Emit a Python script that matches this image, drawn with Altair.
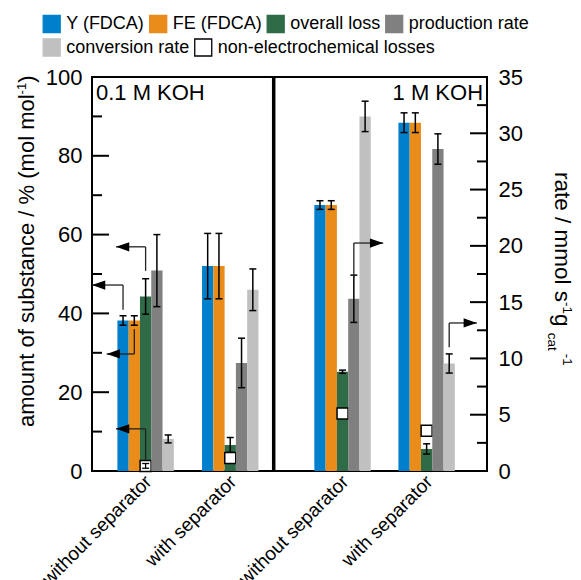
import altair as alt
import pandas as pd

FONT = "Liberation Sans"

# ---------------- data ----------------
group_labels = ["without separator", "with separator", "without separator", "with separator"]
group_pos = [4.75, 12.25, 22.2, 29.65]      # x position of each group (in bar-width units)
x_domain = [0, 35]
divider_pos = [16.1]
panel_labels = ["0.1 M KOH", "1 M KOH"]
panel_label_pos = [0.35, 34.65]

series = ["Y (FDCA)", "FE (FDCA)", "overall loss", "production rate",
          "conversion rate", "non-electrochemical losses"]
colors = ["#0080CC", "#EA8C1A", "#2E6B46", "#808080", "#C0C0C0", "#FFFFFF"]
series_slot = [-2, -1, 0, 1, 2, 0]
legend_rows = [0, 0, 0, 0, 1, 1]

# left axis: amount of substance / %
y_fdca = [38.2, 52.0, 67.5, 88.4]
y_fdca_err = [1.2, 8.3, 1.1, 2.5]
fe_fdca = [38.2, 52.0, 67.5, 88.4]
fe_fdca_err = [1.2, 8.3, 1.1, 2.5]
overall_loss = [44.3, 6.6, 25.2, 5.6]
overall_loss_err = [4.5, 1.9, 0.4, 1.3]
nonelectro = [1.3, 3.3, 14.6, 10.2]
nonelectro_err = [0.6, 0.0, 0.0, 0.0]

# right axis: rate / mmol s-1 gcat-1
production = [17.8, 9.6, 15.3, 28.6]
production_err = [3.2, 2.2, 2.1, 1.35]
conversion = [2.85, 16.1, 31.5, 9.55]
conversion_err = [0.35, 1.85, 1.35, 0.85]

left_ticks_major = [0, 20, 40, 60, 80, 100]
left_ticks_minor = [10, 30, 50, 70, 90]
right_ticks_major = [0, 5, 10, 15, 20, 25, 30, 35]
right_ticks_minor = [2.5, 7.5, 12.5, 17.5, 22.5, 27.5, 32.5]

# arrows pointing from a bar to its axis
arrow_series = ["Y (FDCA)", "FE (FDCA)", "overall loss", "non-electrochemical losses",
                "production rate", "conversion rate"]
arrow_group = [0, 0, 0, 0, 2, 3]
arrow_from = [40.9, 36.0, 50.8, 2.8, 17.2, 11.0]
arrow_corner = [47.2, 29.7, 56.9, 10.7, 20.25, 13.15]
arrow_tip = [0.0, 1.3, 2.13, 2.13, 25.8, 34.1]

# ---------------- layout constants ----------------
W, H = 395, 394
CAP = 0.31
FS = 22
SFS = 13

AW = {'a': 556, 'm': 833, 'o': 556, 'u': 556, 'n': 556, 't': 278, ' ': 278, 'f': 278, 's': 500,
      'b': 556, 'c': 500, 'e': 556, '/': 278, '%': 889, '(': 333, ')': 333, 'l': 222, 'r': 333,
      'g': 556, '-': 333, '1': 556, 'Y': 667, 'F': 611, 'D': 722, 'C': 722, 'A': 667, 'E': 667,
      'v': 500, 'p': 556, 'd': 556, 'i': 222, 'h': 556}

def tw(s, fs):
    return sum(AW.get(ch, 556) for ch in s) * fs / 1000.0

def slot_of(s):
    return series_slot[series.index(s)]

def bar_df(d):
    rows = []
    for s, (vals, errs) in d.items():
        for i in range(len(group_pos)):
            c = group_pos[i] + slot_of(s)
            rows.append(dict(series=s, xc=c, x0=c - 0.5, x1=c + 0.5, value=vals[i],
                             lo=vals[i] - errs[i], hi=vals[i] + errs[i], err=errs[i]))
    return pd.DataFrame(rows)

def cap_df(df):
    rows = []
    for _, r in df[df["err"] > 0].iterrows():
        for v in (r["lo"], r["hi"]):
            rows.append(dict(xa=r["xc"] - CAP, xb=r["xc"] + CAP, yv=v))
    return pd.DataFrame(rows)

df_left = bar_df({"Y (FDCA)": (y_fdca, y_fdca_err), "FE (FDCA)": (fe_fdca, fe_fdca_err),
                  "overall loss": (overall_loss, overall_loss_err)})
df_right = bar_df({"production rate": (production, production_err),
                   "conversion rate": (conversion, conversion_err)})
df_sq = bar_df({"non-electrochemical losses": (nonelectro, nonelectro_err)})
df_sq_err = df_sq[df_sq["err"] > 0]

arr_rows = []
for s, g, a, b, t in zip(arrow_series, arrow_group, arrow_from, arrow_corner, arrow_tip):
    arr_rows.append(dict(series=s, xstart=group_pos[g] + slot_of(s), y0=a, y1=b, xtip=t))
df_arr = pd.DataFrame(arr_rows)
df_arr_left = df_arr[df_arr["xtip"] < df_arr["xstart"]]
df_arr_right = df_arr[df_arr["xtip"] > df_arr["xstart"]]

# ---------------- scales / axes ----------------
label_expr = " : ".join(
    f"abs(datum.value - {p}) < 0.01 ? '{l}'" for p, l in zip(group_pos, group_labels)
) + " : ''"
xscale = alt.Scale(domain=x_domain, nice=False, zero=False)
xaxis = alt.Axis(values=group_pos, labelExpr=label_expr, title=None, ticks=False, tickSize=0,
                 domain=False, grid=False, labelAngle=-45, labelFontSize=19, labelFont=FONT,
                 labelColor="black", labelPadding=1, labelOffset=-4, labelOverlap=False,
                 labelBound=False)
yL = alt.Scale(domain=[0, 100], nice=False, zero=True)
yR = alt.Scale(domain=[0, 35], nice=False, zero=True)
yL_axis = alt.Axis(orient="left", values=left_ticks_major, title=None, ticks=False, tickSize=0,
                   domain=False, grid=False, labelFontSize=FS, labelFont=FONT,
                   labelColor="black", labelPadding=10)
yR_axis = alt.Axis(orient="right", values=right_ticks_major, title=None, ticks=False, tickSize=0,
                   domain=False, grid=False, labelFontSize=FS, labelFont=FONT,
                   labelColor="black", labelPadding=11)

fill_enc = alt.Fill("series:N", scale=alt.Scale(domain=series, range=colors), legend=None)
stroke_enc = alt.Stroke("series:N", scale=alt.Scale(domain=series, range=colors[:5] + ["#000000"]),
                        legend=None)

def X(f):
    return alt.X(f, type="quantitative", scale=xscale, axis=xaxis)

def YL(f):
    return alt.Y(f, type="quantitative", scale=yL, axis=yL_axis)

def YR(f):
    return alt.Y(f, type="quantitative", scale=yR, axis=yR_axis)

HEAD_L = "M0,0L2,-0.7L2,0.7Z"
HEAD_R = "M0,0L-2,-0.7L-2,0.7Z"

def group(df_bars, Yf, df_arrows, head, extra):
    layers = [
        alt.Chart(df_bars).mark_bar(strokeWidth=0).encode(
            x=X("x0"), x2="x1", y=Yf("value"), y2=alt.datum(0), fill=fill_enc),
        alt.Chart(df_bars).mark_rule(color="black", strokeWidth=1.5).encode(x=X("xc"), y=Yf("lo"), y2="hi"),
        alt.Chart(cap_df(df_bars)).mark_rule(color="black", strokeWidth=1.5).encode(x=X("xa"), x2="xb", y=Yf("yv")),
    ]
    layers += extra
    layers += [
        alt.Chart(df_arrows).mark_rule(color="#222222", strokeWidth=1.3).encode(x=X("xstart"), y=Yf("y0"), y2="y1"),
        alt.Chart(df_arrows).mark_rule(color="#222222", strokeWidth=1.3).encode(x=X("xstart"), x2="xtip", y=Yf("y1")),
        alt.Chart(df_arrows).mark_point(shape=head, size=175, filled=True, fill="black", strokeWidth=0,
                                        opacity=1).encode(x=X("xtip"), y=Yf("y1")),
    ]
    return layers

tick_l_maj = pd.DataFrame({"v": left_ticks_major})
tick_l_min = pd.DataFrame({"v": left_ticks_minor})
tick_r_maj = pd.DataFrame({"v": right_ticks_major})
tick_r_min = pd.DataFrame({"v": right_ticks_minor})

squares = [
    alt.Chart(df_sq).mark_square(size=121, strokeWidth=1.5, filled=True, opacity=1).encode(
        x=X("xc"), y=YL("value"), fill=fill_enc, stroke=stroke_enc),
    alt.Chart(df_sq_err).mark_rule(color="black", strokeWidth=1.3).encode(x=X("xc"), y=YL("lo"), y2="hi"),
    alt.Chart(cap_df(df_sq_err)).mark_rule(color="black", strokeWidth=1.3).encode(x=X("xa"), x2="xb", y=YL("yv")),
    alt.Chart(tick_l_maj).mark_rule(color="black", strokeWidth=2).encode(x=alt.value(0), x2=alt.value(17), y=YL("v")),
    alt.Chart(tick_l_min).mark_rule(color="black", strokeWidth=2).encode(x=alt.value(0), x2=alt.value(10), y=YL("v")),
]
right_extra = [
    alt.Chart(tick_r_maj).mark_rule(color="black", strokeWidth=2).encode(x=alt.value(W - 17), x2=alt.value(W), y=YR("v")),
    alt.Chart(tick_r_min).mark_rule(color="black", strokeWidth=2).encode(x=alt.value(W - 10), x2=alt.value(W), y=YR("v")),
]

left_group = alt.layer(*group(df_left, YL, df_arr_left, HEAD_L, squares))
right_group = alt.layer(*group(df_right, YR, df_arr_right, HEAD_R, right_extra))

# divider and panel labels
div = alt.Chart(pd.DataFrame({"p": divider_pos})).mark_rule(color="black", strokeWidth=3.5).encode(
    x=X("p"), y=alt.value(0), y2=alt.value(H))
pl = pd.DataFrame({"t": panel_labels, "p": panel_label_pos})
panel_l = alt.Chart(pl.iloc[[0]]).mark_text(align="left", baseline="alphabetic", font=FONT, fontSize=FS,
                                            color="black").encode(x=X("p"), y=alt.value(23), text="t")
panel_r = alt.Chart(pl.iloc[[1]]).mark_text(align="right", baseline="alphabetic", font=FONT, fontSize=FS,
                                            color="black").encode(x=X("p"), y=alt.value(23), text="t")

# legend (flow layout, two rows)
LEG_X0, LEG_Y0, LEG_DY = 42.7 - 92, 24 - 77, 23.5
BOX, LOFF, CPAD, LFS = 18, 5.5, 5, 18
leg_rows = []
cursor = {}
for s, r in zip(series, legend_rows):
    x = cursor.get(r, LEG_X0)
    leg_rows.append(dict(series=s, bx=x + BOX / 2, tx=x + BOX + LOFF, ly=LEG_Y0 + r * LEG_DY))
    cursor[r] = x + BOX + LOFF + tw(s, LFS) + CPAD
df_leg = pd.DataFrame(leg_rows)
leg_box = alt.Chart(df_leg).mark_square(size=17 * 17, strokeWidth=1.3, filled=True, opacity=1).encode(
    x=alt.X("bx:Q", scale=None), y=alt.Y("ly:Q", scale=None), fill=fill_enc, stroke=stroke_enc)
leg_txt = alt.Chart(df_leg).mark_text(align="left", baseline="middle", font=FONT, fontSize=LFS,
                                      color="black").encode(
    x=alt.X("tx:Q", scale=None), y=alt.Y("ly:Q", scale=None), text="series:N")

# axis titles with super/subscripts
def title_pieces(pieces, bx, by, angle, direction):
    out = []
    pos = by
    for txt, fs, shift, gap in pieces:
        pos += direction * gap
        out.append(alt.Chart(pd.DataFrame({"t": [txt]})).mark_text(
            angle=angle, align="left", baseline="alphabetic", font=FONT, fontSize=fs, color="black"
        ).encode(x=alt.value(bx + shift), y=alt.value(pos), text="t"))
        pos += direction * tw(txt, fs)
    return out

left_title = title_pieces([("amount of substance / % (mol mol", FS, 0, 0), ("-1", SFS, -8, 0), (")", FS, 0, 0)],
                          -58.5, 350, 270, -1)
right_title = title_pieces([("rate / mmol s", 22.5, 0, 0), ("-1", 13.5, 8, 0), (" g", 22.5, 0, 0),
                            ("cat", 13.5, -6.5, 0), ("-1", 13.5, 8, 3)],
                           462.7, 95, 90, 1)

chart = alt.layer(
    left_group, right_group, div, panel_l, panel_r, leg_box, leg_txt, *left_title, *right_title
).resolve_scale(y="independent").properties(
    width=W, height=H,
    autosize=alt.AutoSizeParams(type="none"),
    padding={"left": 92, "top": 77, "right": 94, "bottom": 109},
    background="white",
).configure_view(stroke="black", strokeWidth=2)

chart.save("out.html", embed_options={"renderer": "svg", "actions": False})
